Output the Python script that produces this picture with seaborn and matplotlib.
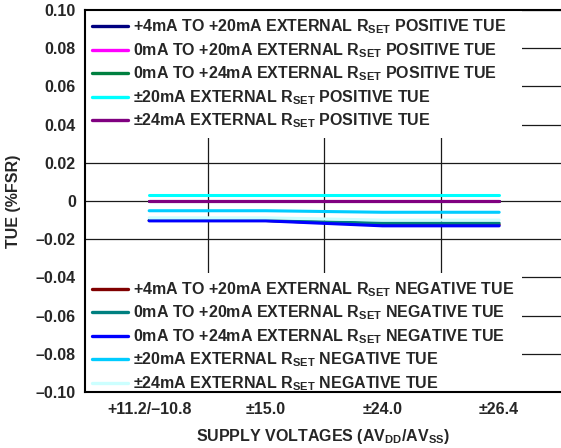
import matplotlib
matplotlib.use("Agg")
import matplotlib.pyplot as plt
import numpy as np
import pandas as pd
import seaborn as sns
from matplotlib.lines import Line2D

# ---------------- data ----------------
supplies = ["+11.2/\u201310.8", "\u00b115.0", "\u00b124.0", "\u00b126.4"]

pos_labels = [
    r"+4mA TO +20mA EXTERNAL R$_{SET}$ POSITIVE TUE",
    r"0mA TO +20mA EXTERNAL R$_{SET}$ POSITIVE TUE",
    r"0mA TO +24mA EXTERNAL R$_{SET}$ POSITIVE TUE",
    "\u00b120mA EXTERNAL R$_{SET}$ POSITIVE TUE",
    "\u00b124mA EXTERNAL R$_{SET}$ POSITIVE TUE",
]
neg_labels = [
    r"+4mA TO +20mA EXTERNAL R$_{SET}$ NEGATIVE TUE",
    r"0mA TO +20mA EXTERNAL R$_{SET}$ NEGATIVE TUE",
    r"0mA TO +24mA EXTERNAL R$_{SET}$ NEGATIVE TUE",
    "\u00b120mA EXTERNAL R$_{SET}$ NEGATIVE TUE",
    "\u00b124mA EXTERNAL R$_{SET}$ NEGATIVE TUE",
]

pos_4_20 = [0.0000, 0.0000, 0.0000, 0.0000]
pos_0_20 = [0.0000, 0.0000, 0.0000, 0.0000]
pos_0_24 = [0.0000, 0.0000, 0.0000, 0.0000]
pos_pm20 = [0.0032, 0.0032, 0.0032, 0.0032]
pos_pm24 = [0.0000, 0.0000, 0.0000, 0.0000]

neg_4_20 = [-0.0102, -0.0102, -0.0124, -0.0124]
neg_0_20 = [-0.0102, -0.0102, -0.0116, -0.0116]
neg_0_24 = [-0.0104, -0.0104, -0.0130, -0.0130]
neg_pm20 = [-0.0051, -0.0051, -0.0059, -0.0059]
neg_pm24 = [-0.0088, -0.0088, -0.0100, -0.0100]

pos_colors = ["#000080", "#FF00FF", "#008040", "#00FFFF", "#800080"]
neg_colors = ["#800000", "#008080", "#0000FF", "#00CCFF", "#CCFFFF"]

yticks = [0.10, 0.08, 0.06, 0.04, 0.02, 0, -0.02, -0.04, -0.06, -0.08, -0.10]
ytick_labels = ["0.10", "0.08", "0.06", "0.04", "0.02", "0",
                "\u20130.02", "\u20130.04", "\u20130.06", "\u20130.08", "\u20130.10"]

# ---------------- long table ----------------
series_values = [pos_4_20, pos_0_20, pos_0_24, pos_pm20, pos_pm24,
                 neg_4_20, neg_0_20, neg_0_24, neg_pm20, neg_pm24]
series_labels = pos_labels + neg_labels
series_colors = pos_colors + neg_colors

rows = []
for lab, vals in zip(series_labels, series_values):
    for i, v in enumerate(vals):
        rows.append({"series": lab, "x": i, "tue": v})
df = pd.DataFrame(rows)

# ---------------- style ----------------
FS = 11.5
sns.set_style("white")
plt.rcParams["font.family"] = ["Liberation Sans", "DejaVu Sans"]
plt.rcParams["font.weight"] = "bold"
plt.rcParams["mathtext.fontset"] = "custom"
plt.rcParams["mathtext.rm"] = "Liberation Sans:bold"
plt.rcParams["mathtext.bf"] = "Liberation Sans:bold"
plt.rcParams["mathtext.it"] = "Liberation Sans:bold"
plt.rcParams["mathtext.default"] = "bf"

fig = plt.figure(figsize=(5.61, 4.48), dpi=100)
ax_w = 1 - 85 / 561
ax = fig.add_axes([85 / 561, 1 - 392 / 448, ax_w, (392 - 10) / 448])

palette = dict(zip(series_labels, series_colors))
sns.lineplot(data=df, x="x", y="tue", hue="series", hue_order=series_labels,
             palette=palette, linewidth=2.2, legend=False, ax=ax, zorder=3)

ax.set_xlim(-0.55, 3.53)
ax.set_ylim(-0.10, 0.10)
ax.set_xticks(range(len(supplies)))
ax.set_xticklabels(supplies, fontsize=FS, fontweight="bold")
ax.set_xticks([0.5, 1.5, 2.5], minor=True)
ax.set_yticks(yticks)
ax.set_yticklabels(ytick_labels, fontsize=FS, fontweight="bold")
ax.tick_params(axis="both", which="both", length=0)
ax.tick_params(axis="y", pad=6.5)
ax.tick_params(axis="x", pad=7)

ax.grid(which="major", axis="y", color="#1a1a1a", linewidth=0.9)
ax.grid(which="minor", axis="x", color="#1a1a1a", linewidth=0.9)
ax.set_axisbelow(True)

for side in ["left", "bottom", "top"]:
    ax.spines[side].set_visible(True)
    ax.spines[side].set_color("black")
    ax.spines[side].set_linewidth(1.5)
    ax.spines[side].set_zorder(10)
ax.spines["right"].set_visible(False)

ax.set_xlabel(r"SUPPLY VOLTAGES (AV$_{DD}$/AV$_{SS}$)", fontsize=FS,
              fontweight="bold", labelpad=7.5)
ax.set_ylabel("TUE (%FSR)", fontsize=FS, fontweight="bold")
ax.yaxis.set_label_coords((21 - 85) / (561 - 85), 0.5)

pos_handles = [Line2D([0], [0], color=c, lw=2.4) for c in pos_colors]
neg_handles = [Line2D([0], [0], color=c, lw=2.4) for c in neg_colors]

axh = 382.0
legw = (522 - 85) / (561 - 85)
common = dict(mode="expand", borderaxespad=0, frameon=True, fancybox=False,
              facecolor="white", edgecolor="none", framealpha=1,
              fontsize=FS, handlelength=2.25, handletextpad=0.3,
              labelspacing=0.3, borderpad=0.45)
leg1 = ax.legend(pos_handles, pos_labels, loc="upper left",
                 bbox_to_anchor=(0, 0, legw, 1 - 0.5 / axh), **common)
ax.add_artist(leg1)
leg2 = ax.legend(neg_handles, neg_labels, loc="lower left",
                 bbox_to_anchor=(0, -8 / axh, legw, 1), **common)
for leg in (leg1, leg2):
    for t in leg.get_texts():
        t.set_fontweight("bold")

fig.savefig("out.png", dpi=100)
